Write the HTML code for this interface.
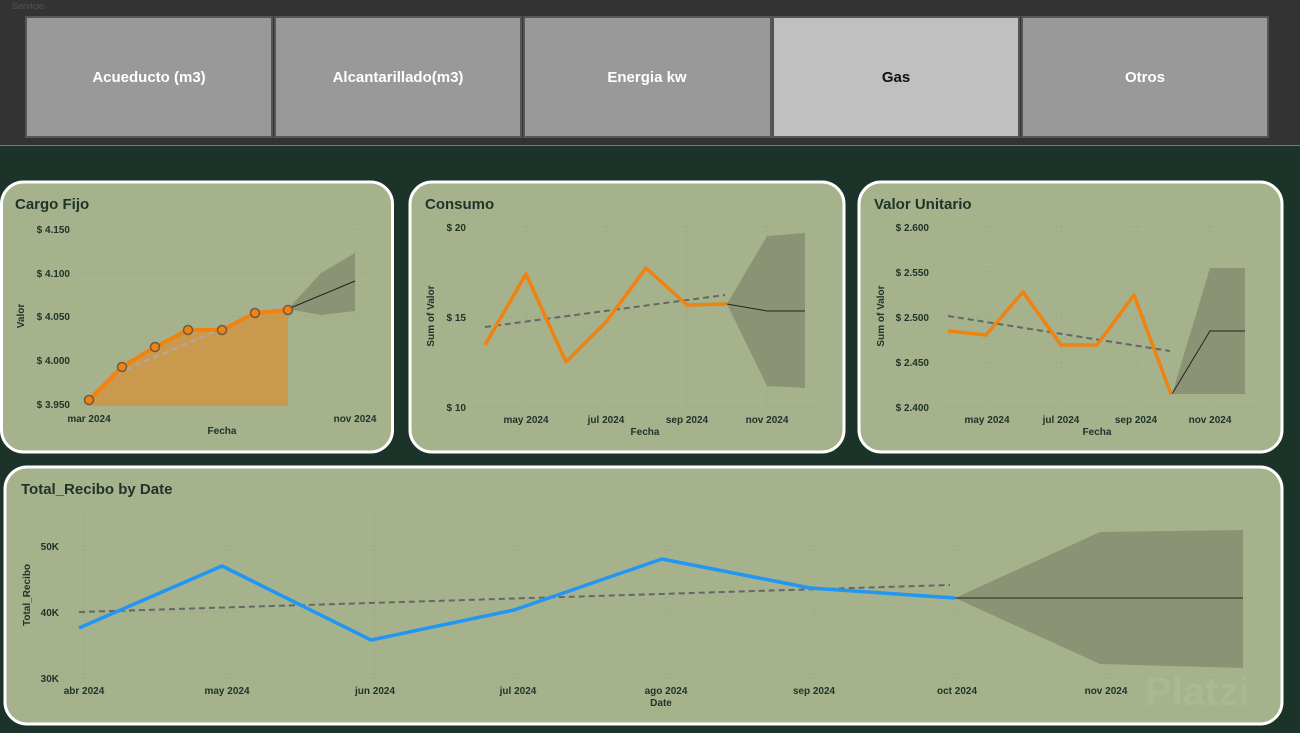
<!DOCTYPE html>
<html><head><meta charset="utf-8"><style>
html,body{margin:0;padding:0;width:1300px;height:733px;overflow:hidden;background:#1c3329;font-family:"Liberation Sans",sans-serif;}
svg text{font-family:"Liberation Sans",sans-serif;}
</style></head><body>
<svg width="1300" height="733" xmlns="http://www.w3.org/2000/svg">
<rect x="0" y="0" width="1300" height="145" fill="#333333"/>
<line x1="0" y1="145.5" x2="1300" y2="145.5" stroke="#6a7a9a" stroke-width="1"/>
<text x="12" y="9" font-size="9" fill="#555">Servicio</text>
<g font-size="15" font-weight="bold" text-anchor="middle">
<rect x="26" y="17" width="246" height="120" fill="#999" stroke="#555" stroke-width="2"/>
<text x="149" y="82" fill="#fff">Acueducto (m3)</text>
<rect x="275" y="17" width="246" height="120" fill="#999" stroke="#555" stroke-width="2"/>
<text x="398" y="82" fill="#fff">Alcantarillado(m3)</text>
<rect x="524" y="17" width="247" height="120" fill="#999" stroke="#555" stroke-width="2"/>
<text x="647" y="82" fill="#fff">Energia kw</text>
<rect x="773" y="17" width="246" height="120" fill="#c0c0c0" stroke="#555" stroke-width="2"/>
<text x="896" y="82" fill="#111">Gas</text>
<rect x="1022" y="17" width="246" height="120" fill="#999" stroke="#555" stroke-width="2"/>
<text x="1145" y="82" fill="#fff">Otros</text>
</g>

<g fill="#a6b28c" stroke="#fff" stroke-width="3">
<rect x="1.5" y="182" width="391" height="270" rx="22"/>
<rect x="410" y="182" width="434" height="270" rx="22"/>
<rect x="859" y="182" width="423" height="270" rx="22"/>
<rect x="5" y="467" width="1277" height="257" rx="22"/>
</g>
<g font-size="15" font-weight="bold" fill="#1e3329">
<text x="15" y="209">Cargo Fijo</text>
<text x="425" y="209">Consumo</text>
<text x="874" y="209">Valor Unitario</text>
<text x="21" y="494">Total_Recibo by Date</text>
</g>

<!-- Card1 -->
<g stroke="#95a080" stroke-dasharray="1,3" stroke-width="1">
<line x1="80" y1="229" x2="370" y2="229"/><line x1="80" y1="273" x2="370" y2="273"/><line x1="80" y1="316" x2="370" y2="316"/><line x1="80" y1="360" x2="370" y2="360"/><line x1="80" y1="404" x2="370" y2="404"/>
<line x1="355" y1="229" x2="355" y2="404"/>
</g>
<g font-size="10" font-weight="bold" fill="#1e3329" text-anchor="end">
<text x="70" y="233">$ 4.150</text><text x="70" y="277">$ 4.100</text><text x="70" y="320">$ 4.050</text><text x="70" y="364">$ 4.000</text><text x="70" y="408">$ 3.950</text>
</g>
<g font-size="10" font-weight="bold" fill="#1e3329" text-anchor="middle">
<text x="89" y="422">mar 2024</text><text x="355" y="422">nov 2024</text><text x="222" y="434">Fecha</text>
<text transform="translate(24,316) rotate(-90)">Valor</text>
</g>
<path d="M288,309 L321,273 L355,253 L355,311 L321,315 Z" fill="#8a9475"/>
<line x1="288" y1="309" x2="355" y2="281" stroke="#222" stroke-width="1"/>
<path d="M89,400 L122,367 L155,347 L188,330 L222,330 L255,313 L288,310 L288,406 L89,406 Z" fill="#c9994e"/>
<line x1="89" y1="385" x2="285" y2="302" stroke="#aaa" stroke-width="2" stroke-dasharray="6,4"/>
<polyline points="89,400 122,367 155,347 188,330 222,330 255,313 288,310" fill="none" stroke="#f0820f" stroke-width="4"/>
<g fill="#f0820f" stroke="#6b5a45" stroke-width="1.5">
<circle cx="89" cy="400" r="4.5"/><circle cx="122" cy="367" r="4.5"/><circle cx="155" cy="347" r="4.5"/><circle cx="188" cy="330" r="4.5"/><circle cx="222" cy="330" r="4.5"/><circle cx="255" cy="313" r="4.5"/><circle cx="288" cy="310" r="4.5"/>
</g>

<!-- Card2 -->
<g stroke="#95a080" stroke-dasharray="1,3" stroke-width="1">
<line x1="475" y1="227" x2="820" y2="227"/><line x1="475" y1="317" x2="820" y2="317"/><line x1="475" y1="407" x2="820" y2="407"/>
<line x1="526" y1="227" x2="526" y2="407"/><line x1="606" y1="227" x2="606" y2="407"/><line x1="687" y1="227" x2="687" y2="407"/><line x1="767" y1="227" x2="767" y2="407"/>
</g>
<g font-size="10" font-weight="bold" fill="#1e3329" text-anchor="end">
<text x="466" y="231">$ 20</text><text x="466" y="321">$ 15</text><text x="466" y="411">$ 10</text>
</g>
<g font-size="10" font-weight="bold" fill="#1e3329" text-anchor="middle">
<text x="526" y="423">may 2024</text><text x="606" y="423">jul 2024</text><text x="687" y="423">sep 2024</text><text x="767" y="423">nov 2024</text><text x="645" y="435">Fecha</text>
<text transform="translate(434,316) rotate(-90)">Sum of Valor</text>
</g>
<path d="M727,304 L767,236 L805,233 L805,388 L767,386 Z" fill="#8a9475"/>
<polyline points="727,304 767,311 805,311" fill="none" stroke="#222" stroke-width="1"/>
<line x1="485" y1="327" x2="725" y2="295" stroke="#666" stroke-width="2" stroke-dasharray="6,4"/>
<polyline points="485,345 526,274 566,362 606,322 646,268 687,305 727,304" fill="none" stroke="#f0820f" stroke-width="3.5" stroke-linejoin="round"/>

<!-- Card3 -->
<g stroke="#95a080" stroke-dasharray="1,3" stroke-width="1">
<line x1="940" y1="227" x2="1255" y2="227"/><line x1="940" y1="272" x2="1255" y2="272"/><line x1="940" y1="317" x2="1255" y2="317"/><line x1="940" y1="362" x2="1255" y2="362"/><line x1="940" y1="407" x2="1255" y2="407"/>
<line x1="987" y1="227" x2="987" y2="407"/><line x1="1061" y1="227" x2="1061" y2="407"/><line x1="1136" y1="227" x2="1136" y2="407"/><line x1="1210" y1="227" x2="1210" y2="407"/>
</g>
<g font-size="10" font-weight="bold" fill="#1e3329" text-anchor="end">
<text x="929" y="231">$ 2.600</text><text x="929" y="276">$ 2.550</text><text x="929" y="321">$ 2.500</text><text x="929" y="366">$ 2.450</text><text x="929" y="411">$ 2.400</text>
</g>
<g font-size="10" font-weight="bold" fill="#1e3329" text-anchor="middle">
<text x="987" y="423">may 2024</text><text x="1061" y="423">jul 2024</text><text x="1136" y="423">sep 2024</text><text x="1210" y="423">nov 2024</text><text x="1097" y="435">Fecha</text>
<text transform="translate(884,316) rotate(-90)">Sum of Valor</text>
</g>
<path d="M1172,394 L1210,268 L1245,268 L1245,394 Z" fill="#8a9475"/>
<polyline points="1172,394 1210,331 1245,331" fill="none" stroke="#222" stroke-width="1"/>
<line x1="948" y1="316" x2="1170" y2="351" stroke="#666" stroke-width="2" stroke-dasharray="6,4"/>
<polyline points="948,331 986,335 1023,292 1061,345 1097,345 1134,295 1171,394" fill="none" stroke="#f0820f" stroke-width="3.5" stroke-linejoin="round"/>

<!-- Card4 -->
<g stroke="#95a080" stroke-dasharray="1,3" stroke-width="1">
<line x1="70" y1="546" x2="1260" y2="546"/><line x1="70" y1="612" x2="1260" y2="612"/><line x1="70" y1="678" x2="1260" y2="678"/>
<line x1="84" y1="513" x2="84" y2="678"/><line x1="227" y1="513" x2="227" y2="678"/><line x1="375" y1="513" x2="375" y2="678"/><line x1="518" y1="513" x2="518" y2="678"/><line x1="666" y1="513" x2="666" y2="678"/><line x1="814" y1="513" x2="814" y2="678"/><line x1="957" y1="513" x2="957" y2="678"/><line x1="1106" y1="513" x2="1106" y2="678"/>
</g>
<g font-size="10" font-weight="bold" fill="#1e3329" text-anchor="end">
<text x="59" y="550">50K</text><text x="59" y="616">40K</text><text x="59" y="682">30K</text>
</g>
<g font-size="10" font-weight="bold" fill="#1e3329" text-anchor="middle">
<text x="84" y="694">abr 2024</text><text x="227" y="694">may 2024</text><text x="375" y="694">jun 2024</text><text x="518" y="694">jul 2024</text><text x="666" y="694">ago 2024</text><text x="814" y="694">sep 2024</text><text x="957" y="694">oct 2024</text><text x="1106" y="694">nov 2024</text>
<text x="661" y="706">Date</text>
<text transform="translate(30,595) rotate(-90)">Total_Recibo</text>
</g>
<path d="M955,598 L1100,532 L1243,530 L1243,668 L1100,664 Z" fill="#8a9475"/>
<line x1="955" y1="598" x2="1243" y2="598" stroke="#222" stroke-width="1"/>
<line x1="79" y1="612" x2="950" y2="585" stroke="#666" stroke-width="2" stroke-dasharray="6,4"/>
<polyline points="79,628 222,566 371,640 514,610 662,559 810,588 955,598" fill="none" stroke="#2196f3" stroke-width="3.5" stroke-linejoin="round"/>
<text x="1145" y="705" font-size="40" font-weight="bold" fill="#b8c49c" opacity="0.35">Platzi</text>
</svg>
</body></html>
